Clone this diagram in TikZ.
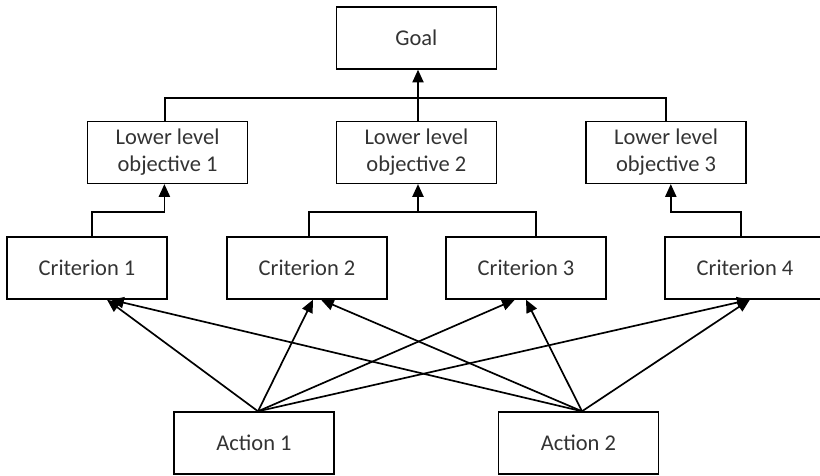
\documentclass[tikz,border=0pt]{standalone}
\usepackage{fontspec}
\setmainfont{Carlito}
\usepackage{tikz}
\usetikzlibrary{arrows.meta, positioning}

\begin{document}
\begin{tikzpicture}[
    box/.style={draw, line width=1pt, minimum width=4cm, minimum height=1.55cm,
      inner sep=0pt, align=center, text=black!80,
      font=\fontsize{16}{19.2}\selectfont},
    arr/.style={-{Triangle[length=0.32cm, width=0.28cm]}, line width=1.2pt},
    link/.style={line width=1.2pt}
  ]
  \useasboundingbox (0,0) rectangle (20.5,11.9);
  % top level
  \node[box] (goal) at (10.41,10.95) {Goal};
  % objectives
  \node[box] (lo1) at (4.19,8.09) {Lower level\\objective 1};
  \node[box] (lo2) at (10.41,8.09) {Lower level\\objective 2};
  \node[box] (lo3) at (16.65,8.09) {Lower level\\objective 3};
  % criteria
  \node[box] (c1) at (2.175,5.2) {Criterion 1};
  \node[box] (c2) at (7.675,5.2) {Criterion 2};
  \node[box] (c3) at (13.15,5.2) {Criterion 3};
  \node[box] (c4) at (18.625,5.2) {Criterion 4};
  % actions
  \node[box] (a1) at (6.35,0.825) {Action 1};
  \node[box] (a2) at (14.46,0.825) {Action 2};

  % objectives up to the goal
  \draw[link] ([xshift=-0.06cm]lo1.north) -- ++(0,0.575) coordinate (b1) -| (lo3.north);
  \draw[arr] ([xshift=0.04cm]lo2.north) -- ([xshift=0.04cm]goal.south);
  % criteria up to the objectives
  \draw[arr] ([xshift=0.12cm]c1.north) -- ++(0,0.6) -| ([xshift=-0.08cm]lo1.south);
  \draw[link] ([xshift=0.05cm]c2.north) -- ++(0,0.6) coordinate (b2) -| ([xshift=0.25cm]c3.north);
  \draw[arr] (b2 -| lo2.south) ++(0.04,0) -- ([xshift=0.04cm]lo2.south);
  \draw[arr] ([xshift=-0.1cm]c4.north) -- ++(0,0.6) -| ([xshift=0.12cm]lo3.south);
  % actions up to the criteria
  \foreach \c/\dx in {c1/0.5, c2/0.15, c3/-0.28, c4/0.12} {
    \draw[arr] ([xshift=0.1cm]a1.north) -- ([xshift=\dx cm]\c.south);
  }
  \foreach \c/\dx in {c1/0.6, c2/0.35, c3/0, c4/0.12} {
    \draw[arr] ([xshift=0.09cm]a2.north) -- ([xshift=\dx cm]\c.south);
  }
\end{tikzpicture}
\end{document}
